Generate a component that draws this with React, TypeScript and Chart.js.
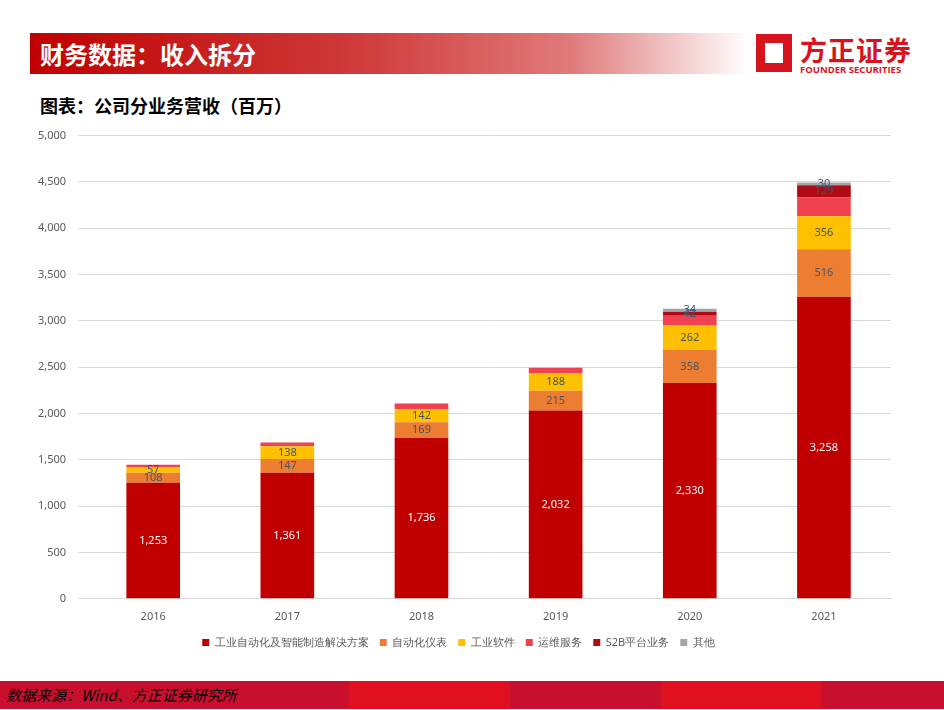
import React, { useEffect, useRef } from "react";
import { Chart, registerables } from "chart.js";

Chart.register(...registerables);

const years = ["2016", "2017", "2018", "2019", "2020", "2021"];
const automation = [1253, 1361, 1736, 2032, 2330, 3258];
const instruments = [108, 147, 169, 215, 358, 516];
const software = [57, 138, 142, 188, 262, 356];
const service = [30, 40, 60, 60, 106, 205];
const s2b = [0, 0, 0, 0, 42, 129];
const others = [0, 0, 0, 0, 34, 30];
const yTicks = [0, 500, 1000, 1500, 2000, 2500, 3000, 3500, 4000, 4500, 5000];

const labelPlugin = {
  id: "segLabels",
  afterDatasetsDraw(chart: any) {
    const ctx = chart.ctx;
    ctx.save();
    ctx.font = "11px 'Noto Sans', sans-serif";
    ctx.textAlign = "center";
    ctx.textBaseline = "middle";
    chart.data.datasets.forEach((ds: any, i: number) => {
      if (ds.noLabel) return;
      const meta = chart.getDatasetMeta(i);
      meta.data.forEach((bar: any, j: number) => {
        const v = ds.data[j];
        if (!v) return;
        ctx.fillStyle = i === 0 ? "#ffffff" : "#44546a";
        ctx.fillText(v.toLocaleString("en-US"), bar.x, (bar.y + bar.base) / 2);
      });
    });
    ctx.restore();
  },
};

const App = () => {
  const chartRef = useRef<HTMLCanvasElement | null>(null);
  const chartInstance = useRef<Chart | null>(null);

  useEffect(() => {
    if (chartInstance.current) chartInstance.current.destroy();
    const ctx = chartRef.current?.getContext("2d");
    if (ctx) {
      const mk = (label: string, data: number[], color: string, noLabel = false) => ({
        label,
        data,
        backgroundColor: color,
        barPercentage: 0.4,
        categoryPercentage: 1,
        noLabel,
      });
      chartInstance.current = new Chart(ctx, {
        type: "bar",
        data: {
          labels: years,
          datasets: [
            mk("工业自动化及智能制造解决方案", automation, "#c00000"),
            mk("自动化仪表", instruments, "#ed7d31"),
            mk("工业软件", software, "#ffc000"),
            mk("运维服务", service, "#f04150", true),
            mk("S2B平台业务", s2b, "#b00a14"),
            mk("其他", others, "#a5a5a5"),
          ] as any,
        },
        options: {
          responsive: true,
          maintainAspectRatio: false,
          animation: false,
          layout: { padding: { left: 0, right: 19, top: 5, bottom: 0 } },
          plugins: {
            legend: {
              position: "bottom",
              labels: {
                color: "#595959",
                boxWidth: 7,
                boxHeight: 7,
                padding: 11,
                font: { size: 11, family: "'Noto Sans', sans-serif" },
              },
            },
            tooltip: { enabled: false },
          },
          scales: {
            x: {
              stacked: true,
              grid: { display: false },
              border: { color: "#d9d9d9" },
              ticks: { color: "#595959", font: { size: 11, family: "'Noto Sans', sans-serif" } },
            },
            y: {
              stacked: true,
              min: 0,
              max: 5000,
              afterBuildTicks: (axis: any) => {
                axis.ticks = yTicks.map((v) => ({ value: v }));
              },
              border: { display: false },
              grid: { color: "#d9d9d9" },
              ticks: {
                color: "#595959",
                padding: 12,
                font: { size: 11, family: "'Noto Sans', sans-serif" },
                callback: (v: any) => Number(v).toLocaleString("en-US"),
              },
            },
          },
        },
        plugins: [labelPlugin],
      });
    }
    return () => {
      if (chartInstance.current) chartInstance.current.destroy();
    };
  }, []);

  return (
    <div
      style={{
        position: "fixed",
        left: 0,
        top: 0,
        width: 944,
        height: 710,
        background: "#fff",
        fontFamily: "'Noto Sans CJK SC', sans-serif",
        overflow: "hidden",
      }}
    >
      <div
        style={{
          position: "absolute",
          left: 30,
          top: 33,
          width: 720,
          height: 41,
          background: "linear-gradient(to right, #c00000 0%, #cf3a3a 45%, #e07a7a 75%, #ffffff 100%)",
          color: "#fff",
          fontSize: 24,
          fontWeight: 700,
          lineHeight: "41px",
          paddingLeft: 10,
          boxSizing: "border-box",
        }}
      >
        财务数据：收入拆分
      </div>
      <div style={{ position: "absolute", left: 756, top: 34, width: 36, height: 38, background: "#d7141e" }}>
        <div style={{ position: "absolute", left: 9, top: 9, width: 18, height: 20, background: "#fff" }} />
      </div>
      <div
        style={{ position: "absolute", left: 800, top: 30, color: "#d7141e", fontSize: 27, fontWeight: 700, letterSpacing: 1 }}
      >
        方正证券
      </div>
      <div
        style={{ position: "absolute", left: 800, top: 63, color: "#d7141e", fontSize: 9.5, fontWeight: 700, fontFamily: "'Open Sans', sans-serif" }}
      >
        FOUNDER SECURITIES
      </div>
      <div style={{ position: "absolute", left: 40, top: 92, fontSize: 18, fontWeight: 700, color: "#000" }}>
        图表：公司分业务营收（百万）
      </div>
      <div style={{ position: "absolute", left: 26, top: 117, width: 884, height: 541 }}>
        <canvas ref={chartRef}></canvas>
      </div>
      <div
        style={{
          position: "absolute",
          left: 0,
          top: 681,
          width: 944,
          height: 28,
          background: "linear-gradient(to right, #c8102e 0%, #c8102e 37%, #e0101e 37%, #e0101e 54%, #c8102e 54%, #c8102e 70%, #e0101e 70%, #e0101e 87%, #c8102e 87%)",
        }}
      >
        <div style={{ position: "absolute", left: 6, top: 3, fontSize: 15, fontStyle: "italic", color: "#000" }}>
          数据来源：Wind、方正证券研究所
        </div>
      </div>
    </div>
  );
};

export default App;
